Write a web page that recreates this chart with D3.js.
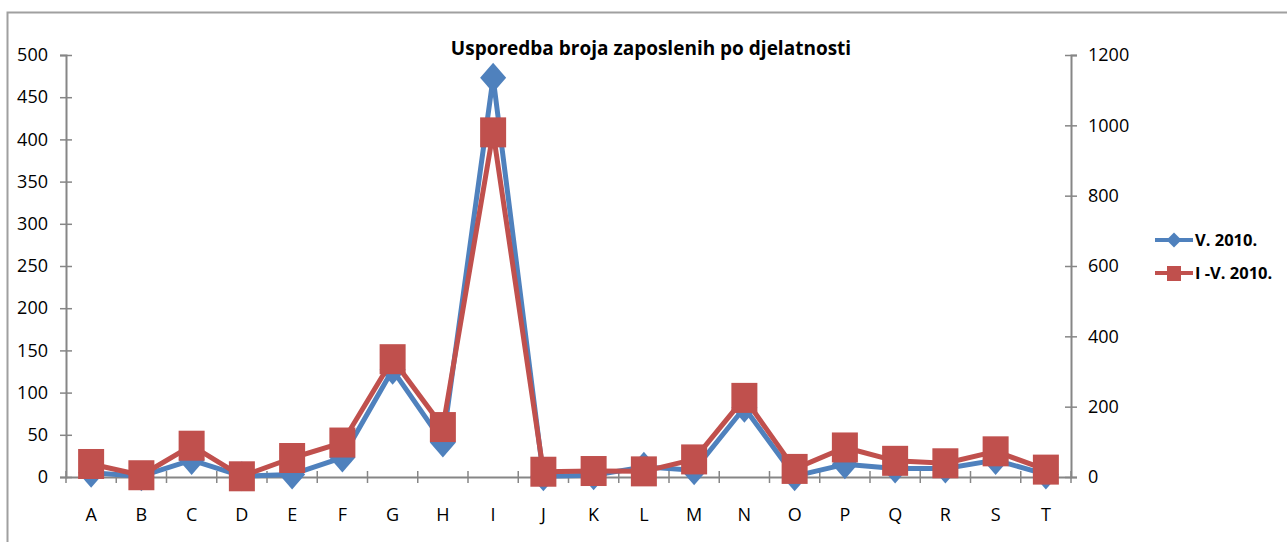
<!DOCTYPE html>
<html><head><meta charset="utf-8">
<script src="https://cdn.jsdelivr.net/npm/d3@7"></script>
<style>body{margin:0;background:#fff;}svg{display:block;font-family:"Open Sans",sans-serif;}</style>
</head><body>
<svg id="c" width="1287" height="542"></svg>
<script>
const categories = ["A","B","C","D","E","F","G","H","I","J","K","L","M","N","O","P","Q","R","S","T"];
const seriesNames = ["V. 2010.", "I -V. 2010."];
const blueValues = [5,1,20,1,3,23,127,41,473,1,2,12,8,82,1,15,10,10,20,3];
const redValues = [37,5,89,2,54,98,335,142,980,15,17,16,50,225,23,84,46,39,73,21];
const leftTicks = [0,50,100,150,200,250,300,350,400,450,500];
const rightTicks = [0,200,400,600,800,1000,1200];
const title = "Usporedba broja zaposlenih po djelatnosti";

const svg = d3.select("#c");
const blue = "#4F81BD", red = "#C0504D", axisCol = "#868686";
const L = 66, R = 1071, T = 55, B = 477;

// chart border
svg.append("rect").attr("x",7.5).attr("y",12.5).attr("width",1300).attr("height",560)
  .attr("fill","none").attr("stroke","#a0a0a0").attr("stroke-width",2);

const x = d3.scaleBand().domain(categories).range([L,R]).paddingInner(0).paddingOuter(0);
const yL = d3.scaleLinear().domain([0,500]).range([B,T]);
const yR = d3.scaleLinear().domain([0,1200]).range([B,T]);

// left axis
const gl = svg.append("g").attr("transform",`translate(${L},0)`)
  .call(d3.axisLeft(yL).tickValues(leftTicks).tickFormat(d3.format("d")).tickSize(6).tickPadding(12));
gl.selectAll(".tick line").attr("x2",6).attr("x1",-6);
// right axis
const gr = svg.append("g").attr("transform",`translate(${R},0)`)
  .call(d3.axisRight(yR).tickValues(rightTicks).tickFormat(d3.format("d")).tickSize(6).tickPadding(11));
gr.selectAll(".tick line").attr("x1",-6).attr("x2",6);
// bottom axis
const gb = svg.append("g").attr("transform",`translate(0,${B})`)
  .call(d3.axisBottom(x).tickSize(0).tickPadding(38));
// category boundary ticks
gb.selectAll(".bt").data(d3.range(categories.length+1)).join("line")
  .attr("x1",i=>L+i*x.step()).attr("x2",i=>L+i*x.step()).attr("y1",-6).attr("y2",6)
  .attr("stroke",axisCol).attr("stroke-width",1.5);

[gl,gr,gb].forEach(g=>{
  g.select(".domain").attr("stroke",axisCol).attr("stroke-width",2);
  g.selectAll(".tick line").attr("stroke",axisCol).attr("stroke-width",1.5);
  g.selectAll("text").attr("fill","#000").style("font-size","18px").style("font-family","'Open Sans',sans-serif");
});
gb.selectAll(".tick text").attr("dy","0.35em");

const cx = d => x(d)+x.bandwidth()/2;

// blue series
const lineB = d3.line().x((d,i)=>cx(categories[i])).y(d=>yL(d));
svg.append("path").datum(blueValues).attr("d",lineB).attr("fill","none")
  .attr("stroke",blue).attr("stroke-width",5).attr("stroke-linejoin","round");
const diamond = (w,h)=>`M0,${-h/2}L${w/2},0L0,${h/2}L${-w/2},0Z`;
svg.selectAll(".dm").data(blueValues).join("path")
  .attr("d",diamond(26,30)).attr("fill",blue)
  .attr("transform",(d,i)=>`translate(${cx(categories[i])},${yL(d)})`);

// red series
const lineR = d3.line().x((d,i)=>cx(categories[i])).y(d=>yR(d));
svg.append("path").datum(redValues).attr("d",lineR).attr("fill","none")
  .attr("stroke",red).attr("stroke-width",5).attr("stroke-linejoin","round");
svg.selectAll(".sq").data(redValues).join("rect")
  .attr("x",(d,i)=>cx(categories[i])-13).attr("y",d=>yR(d)-15)
  .attr("width",26).attr("height",30).attr("fill",red);

// title
svg.append("text").attr("x",651).attr("y",55).attr("text-anchor","middle")
  .style("font-size","19px").style("font-weight","bold").attr("fill","#000").text(title);

// legend
const leg = [{name:seriesNames[0],c:blue,sh:"d",y:240},{name:seriesNames[1],c:red,sh:"s",y:273}];
const lg = svg.append("g");
leg.forEach(l=>{
  lg.append("line").attr("x1",1155).attr("x2",1193).attr("y1",l.y).attr("y2",l.y)
    .attr("stroke",l.c).attr("stroke-width",4);
  if(l.sh==="d") lg.append("path").attr("d",diamond(15,15)).attr("fill",l.c).attr("transform",`translate(1174,${l.y})`);
  else lg.append("rect").attr("x",1167).attr("y",l.y-7).attr("width",14).attr("height",15).attr("fill",l.c);
  lg.append("text").attr("x",1195).attr("y",l.y).attr("dy","0.35em").style("font-size","16.5px")
    .style("font-weight","bold").attr("fill","#000").text(l.name);
});
</script>
</body></html>
